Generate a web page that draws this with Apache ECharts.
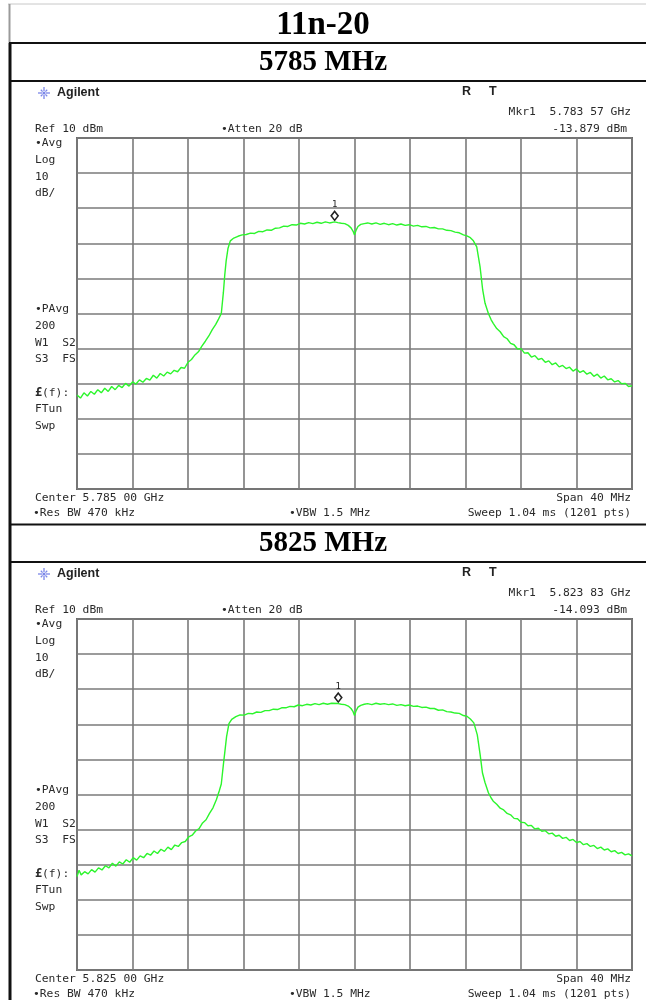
<!DOCTYPE html>
<html>
<head>
<meta charset="utf-8">
<title>11n-20 occupied bandwidth plots</title>
<script src="https://cdn.jsdelivr.net/npm/echarts@6/dist/echarts.min.js"></script>
<style>
  html, body { margin: 0; padding: 0; background: #fff; }
  #chart { width: 646px; height: 1000px; }
</style>
</head>
<body>
<div id="chart"></div>
<script>
// ---- Data: frequency offsets from the centre (MHz) and trace levels (dBm) ----
const tableTitle = '11n-20';
const channelLabels = ['5785 MHz', '5825 MHz'];
const centerLabels = ['Center 5.785 00 GHz', 'Center 5.825 00 GHz'];
const markerLabels = ['Mkr1  5.783 57 GHz', 'Mkr1  5.823 83 GHz'];
const markerReadouts = ['-13.879 dBm', '-14.093 dBm'];
const markerOffsets = [-1.43, -1.17];      // MHz from centre
const markerLevels = [-13.879, -14.093];   // dBm

const trace1Freq = [
  -20.00,-19.75,-19.50,-19.25,-19.00,-18.75,-18.50,-18.25,-18.00,-17.75,-17.50,-17.25,-17.00,-16.75,-16.50,-16.25,
  -16.00,-15.75,-15.50,-15.25,-15.00,-14.75,-14.50,-14.25,-14.00,-13.75,-13.50,-13.25,-13.00,-12.75,-12.50,-12.25,
  -12.00,-11.75,-11.50,-11.25,-11.00,-10.75,-10.50,-10.25,-10.00,-9.80,-9.60,-9.45,-9.35,-9.25,-9.12,-8.95,-8.70,-8.40,
  -8.10,-7.80,-7.50,-7.20,-6.90,-6.60,-6.30,-6.00,-5.70,-5.40,-5.10,-4.80,-4.50,-4.20,-3.90,-3.60,-3.30,-3.00,
  -2.70,-2.40,-2.10,-1.80,-1.43,-1.20,-0.95,-0.70,-0.45,-0.25,-0.10,0.00,0.10,0.25,0.45,0.70,0.95,1.25,1.55,1.85,
  2.15,2.45,2.75,3.05,3.35,3.65,3.95,4.25,4.55,4.85,5.15,5.45,5.75,6.05,6.35,6.65,6.95,7.25,7.55,7.85,8.10,8.35,
  8.57,8.81,9.05,9.24,9.41,9.65,9.85,10.00,10.25,10.50,10.75,11.00,11.25,11.50,11.75,12.00,12.25,12.50,12.75,13.00,
  13.25,13.50,13.75,14.00,14.25,14.50,14.75,15.00,15.25,15.50,15.75,16.00,16.25,16.50,16.75,17.00,17.25,17.50,
  17.75,18.00,18.25,18.50,18.75,19.00,19.25,19.50,19.75,20.00
];
const trace1Level = [
  -63.2,-64.1,-62.6,-63.5,-62.2,-63.0,-61.7,-62.6,-61.3,-62.2,-60.8,-61.7,-60.5,-61.1,-59.9,-60.7,
  -59.5,-60.1,-58.9,-59.6,-58.5,-59.0,-57.6,-58.4,-57.1,-57.8,-56.7,-57.2,-56.2,-56.6,-55.4,-55.6,
  -53.9,-53.1,-51.8,-50.9,-49.3,-47.9,-46.4,-44.6,-43.1,-41.6,-40.0,-34.0,-29.0,-25.0,-21.5,-19.3,-18.5,-18.0,
  -17.6,-17.5,-17.1,-17.2,-16.6,-16.7,-16.2,-16.3,-15.7,-15.6,-15.1,-15.2,-14.7,-14.8,-14.3,-14.5,-14.1,-14.4,
  -14.0,-14.3,-13.9,-14.2,-13.879,-14.1,-14.3,-14.4,-14.9,-15.6,-16.6,-17.6,-16.4,-15.2,-14.6,-14.4,-14.2,-14.5,-14.2,-14.6,
  -14.3,-14.7,-14.4,-14.8,-14.5,-14.9,-14.7,-15.1,-14.9,-15.3,-15.2,-15.6,-15.5,-15.9,-15.9,-16.3,-16.4,-16.8,-17.0,-17.6,-17.9,-18.4,
  -19.3,-21.0,-26.7,-33.3,-37.1,-40.0,-41.8,-42.8,-44.3,-45.2,-46.6,-47.2,-48.5,-48.9,-50.1,-50.0,-51.3,-51.2,-52.4,-52.0,
  -53.1,-52.8,-53.9,-53.5,-54.6,-54.1,-55.2,-54.8,-55.7,-55.3,-56.4,-55.8,-56.8,-56.3,-57.3,-56.8,-57.9,-57.3,
  -58.4,-57.8,-58.9,-58.6,-59.5,-59.1,-60.0,-59.9,-60.8,-60.6
];

const trace2Freq = [
  -20.00,-19.85,-19.70,-19.45,-19.20,-18.95,-18.70,-18.45,-18.20,-17.95,-17.70,-17.45,-17.20,-16.95,-16.70,-16.45,
  -16.20,-15.95,-15.70,-15.45,-15.20,-14.95,-14.70,-14.45,-14.20,-13.95,-13.70,-13.45,-13.20,-12.95,-12.70,-12.45,
  -12.20,-11.95,-11.70,-11.45,-11.20,-10.95,-10.70,-10.45,-10.20,-9.95,-9.75,-9.60,-9.45,-9.32,-9.22,-9.05,-8.85,-8.55,
  -8.25,-7.95,-7.65,-7.35,-7.05,-6.75,-6.45,-6.15,-5.85,-5.55,-5.25,-4.95,-4.65,-4.35,-4.05,-3.75,-3.45,-3.15,
  -2.85,-2.55,-2.25,-1.95,-1.65,-1.17,-0.95,-0.70,-0.45,-0.25,-0.10,0.00,0.10,0.25,0.45,0.70,0.95,1.25,1.55,1.85,
  2.15,2.45,2.75,3.05,3.35,3.65,3.95,4.25,4.55,4.85,5.15,5.45,5.75,6.05,6.35,6.65,6.95,7.25,7.55,7.85,8.10,8.35,
  8.60,8.85,9.05,9.22,9.40,9.65,9.85,10.00,10.25,10.50,10.75,11.00,11.25,11.50,11.75,12.00,12.25,12.50,12.75,13.00,
  13.25,13.50,13.75,14.00,14.25,14.50,14.75,15.00,15.25,15.50,15.75,16.00,16.25,16.50,16.75,17.00,17.25,17.50,
  17.75,18.00,18.25,18.50,18.75,19.00,19.25,19.50,19.75,20.00
];
const trace2Level = [
  -63.4,-61.6,-62.9,-62.0,-62.6,-61.4,-62.1,-60.9,-61.5,-60.3,-60.9,-59.6,-60.4,-59.2,-59.8,-58.6,
  -59.3,-58.0,-58.7,-57.5,-58.0,-56.8,-57.3,-56.1,-56.8,-55.6,-56.2,-55.0,-55.7,-54.4,-54.8,-53.7,
  -53.4,-52.1,-51.6,-50.4,-49.7,-48.1,-47.2,-45.4,-43.8,-41.4,-39.0,-37.0,-31.5,-27.0,-23.5,-19.8,-18.6,-17.8,
  -17.3,-17.4,-16.9,-17.0,-16.5,-16.6,-16.1,-16.1,-15.7,-15.8,-15.3,-15.3,-14.9,-15.0,-14.5,-14.7,-14.3,-14.5,
  -14.1,-14.4,-14.0,-14.3,-14.0,-14.093,-14.3,-14.4,-14.8,-15.5,-16.4,-17.5,-16.3,-15.1,-14.6,-14.3,-14.1,-14.4,-14.0,-14.3,
  -14.1,-14.4,-14.2,-14.6,-14.4,-14.7,-14.5,-14.9,-14.8,-15.2,-15.1,-15.5,-15.5,-16.0,-15.9,-16.4,-16.5,-16.8,-16.9,-17.5,-17.7,-18.5,
  -19.6,-23.0,-28.5,-33.8,-36.5,-39.5,-41.0,-41.9,-42.8,-43.9,-44.4,-45.4,-45.8,-46.8,-46.9,-47.9,-48.0,-48.9,-48.8,-49.8,
  -49.6,-50.5,-50.3,-51.2,-51.0,-51.9,-51.6,-52.5,-52.2,-53.1,-52.8,-53.7,-53.4,-54.3,-54.0,-54.8,-54.5,-55.4,
  -55.0,-55.8,-55.5,-56.3,-56.0,-56.8,-56.5,-57.2,-56.9,-57.5
];

const sideLabelsTop = ['\u2022Avg', 'Log', '10', 'dB/'];
const sideLabelsMid = ['\u2022PAvg', '200', 'W1  S2', 'S3  FS'];
const sideLabelsLow = ['(f):', 'FTun', 'Swp'];

// ---- Layout ----
const PANEL_SHIFT = 481;          // vertical distance between the two analyser panels
const GRID_LEFT = 77, GRID_TOP = 138, GRID_W = 555, GRID_H = 351;
const MONO = '11.3px "DejaVu Sans Mono", monospace';
const TXT = '#2a2a2a';
const TRACE = '#2cf52c';

function pairs(xs, ys) { return xs.map((x, i) => [x, ys[i]]); }

function txt(x, y, text, opts) {
  opts = opts || {};
  const align = opts.align || 'left';
  return {
    type: 'text', silent: true, z: 10,
    style: {
      x: x, y: y, text: text,
      font: opts.font || MONO,
      fill: opts.fill || TXT,
      align: align, textAlign: align,
      verticalAlign: 'middle', textVerticalAlign: 'middle'
    }
  };
}

function hline(x1, x2, y, color, w) {
  return { type: 'line', silent: true, z: 20,
    shape: { x1: x1, y1: y, x2: x2, y2: y }, style: { stroke: color, lineWidth: w } };
}
function vline(x, y1, y2, color, w) {
  return { type: 'line', silent: true, z: 20,
    shape: { x1: x, y1: y1, x2: x, y2: y2 }, style: { stroke: color, lineWidth: w } };
}

// Agilent spark logo: eight short spokes round a small hub
function spark(cx, cy) {
  const els = [];
  const col = '#7a86e8';
  for (let k = 0; k < 8; k++) {
    const a = k * Math.PI / 4;
    const r1 = 2, r2 = (k % 2 === 0) ? 6 : 4.5;
    els.push({ type: 'line', silent: true, z: 10,
      shape: { x1: cx + r1 * Math.cos(a), y1: cy + r1 * Math.sin(a), x2: cx + r2 * Math.cos(a), y2: cy + r2 * Math.sin(a) },
      style: { stroke: col, lineWidth: 1.3 } });
  }
  els.push({ type: 'circle', silent: true, z: 10, shape: { cx: cx, cy: cy, r: 1.6 }, style: { fill: col } });
  return els;
}

function panelGraphics(i) {
  const d = i * PANEL_SHIFT;
  const g = [];
  g.push(...spark(44, 93 + d));
  g.push(txt(57, 93 + d, 'Agilent', { font: 'bold 12.5px "Liberation Sans", Arial, sans-serif', fill: '#222' }));
  g.push(txt(462, 92 + d, 'R', { font: 'bold 12.5px "Liberation Sans", Arial, sans-serif', fill: '#222' }));
  g.push(txt(489, 92 + d, 'T', { font: 'bold 12.5px "Liberation Sans", Arial, sans-serif', fill: '#222' }));
  g.push(txt(631, 112 + d, markerLabels[i], { align: 'right' }));
  g.push(txt(627, 129 + d, markerReadouts[i], { align: 'right' }));
  g.push(txt(35, 129 + d, 'Ref 10 dBm'));
  g.push(txt(221, 129 + d, '\u2022Atten 20 dB'));
  sideLabelsTop.forEach((s, k) => g.push(txt(35, 143.5 + k * 16.6 + d, s)));
  sideLabelsMid.forEach((s, k) => g.push(txt(35, 309.5 + k * 16.6 + d, s)));
  g.push(txt(35, 393 + d, '\u00a3', { font: 'bold 12px "DejaVu Sans Mono", monospace' }));
  g.push(txt(42, 393 + d, sideLabelsLow[0]));
  g.push(txt(35, 409 + d, sideLabelsLow[1]));
  g.push(txt(35, 426 + d, sideLabelsLow[2]));
  g.push(txt(35, 498 + d, centerLabels[i]));
  g.push(txt(631, 498 + d, 'Span 40 MHz', { align: 'right' }));
  g.push(txt(33, 513 + d, '\u2022Res BW 470 kHz'));
  g.push(txt(289, 513 + d, '\u2022VBW 1.5 MHz'));
  g.push(txt(631, 513 + d, 'Sweep 1.04 ms (1201 pts)', { align: 'right' }));
  return g;
}

const tableGraphics = [
  hline(8, 646, 4, '#c8c8c8', 1),
  vline(9.5, 4, 43, '#9a9a9a', 2),
  vline(10, 43, 1000, '#111', 3),
  hline(9, 646, 43, '#111', 2),
  hline(9, 646, 81, '#111', 2),
  hline(9, 646, 524.5, '#111', 2),
  hline(9, 646, 562, '#111', 2),
  txt(323, 25, tableTitle, { align: 'center', font: 'bold 33px "Liberation Serif", "Times New Roman", serif', fill: '#000' }),
  txt(323, 63, channelLabels[0], { align: 'center', font: 'bold 29px "Liberation Serif", "Times New Roman", serif', fill: '#000' }),
  txt(323, 543.5, channelLabels[1], { align: 'center', font: 'bold 29px "Liberation Serif", "Times New Roman", serif', fill: '#000' })
];

function gridDef(i) {
  return { left: GRID_LEFT, top: GRID_TOP + i * PANEL_SHIFT, width: GRID_W, height: GRID_H,
    show: true, borderColor: '#6a6a6a', borderWidth: 2, backgroundColor: 'transparent' };
}
function xAxisDef(i) {
  return { type: 'value', gridIndex: i, min: -20, max: 20, interval: 4,
    axisLine: { show: false }, axisTick: { show: false }, axisLabel: { show: false },
    splitLine: { show: true, lineStyle: { color: '#7a7a7a', width: 1.6 } } };
}
function yAxisDef(i) {
  return { type: 'value', gridIndex: i, min: -90, max: 10, interval: 10,
    axisLine: { show: false }, axisTick: { show: false }, axisLabel: { show: false },
    splitLine: { show: true, lineStyle: { color: '#7a7a7a', width: 1.6 } } };
}
function traceSeries(i, data) {
  return {
    type: 'line', xAxisIndex: i, yAxisIndex: i, data: data,
    showSymbol: false, symbol: 'none', animation: false, z: 5,
    lineStyle: { color: TRACE, width: 1.4 },
    markPoint: {
      symbol: 'diamond', symbolSize: [7, 9], symbolOffset: [0, -6],
      itemStyle: { color: '#fff', borderColor: '#222', borderWidth: 1.6 },
      label: { show: true, formatter: '1', position: 'top', distance: 1,
        color: '#222', fontSize: 9, fontFamily: '"DejaVu Sans Mono", monospace' },
      data: [{ coord: [markerOffsets[i], markerLevels[i]] }]
    }
  };
}

const chart = echarts.init(document.getElementById('chart'), null, { renderer: 'canvas' });
chart.setOption({
  animation: false,
  backgroundColor: '#fff',
  grid: [gridDef(0), gridDef(1)],
  xAxis: [xAxisDef(0), xAxisDef(1)],
  yAxis: [yAxisDef(0), yAxisDef(1)],
  series: [traceSeries(0, pairs(trace1Freq, trace1Level)), traceSeries(1, pairs(trace2Freq, trace2Level))],
  graphic: { elements: tableGraphics.concat(panelGraphics(0), panelGraphics(1)) }
});
</script>
</body>
</html>
